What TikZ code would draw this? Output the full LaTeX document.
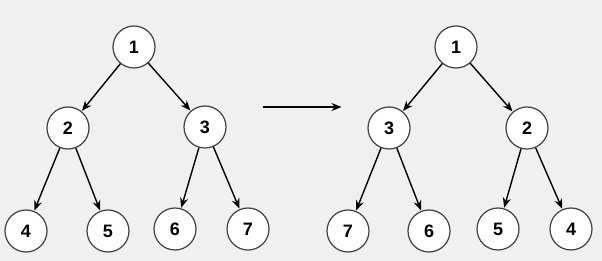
\documentclass[tikz,border=0pt]{standalone}
\usepackage{fontspec}
\setmainfont{Liberation Sans}
\usetikzlibrary{arrows.meta}
\begin{document}
\begin{tikzpicture}[x=1pt,y=-1pt,
  tnode/.style={circle,draw=black!75,line width=1.2pt,fill=white,minimum size=42pt,inner sep=0pt,font=\fontsize{18}{18}\selectfont\bfseries},
  edge/.style={line width=1.4pt,-{Stealth[length=10pt,width=8pt]},shorten <=0pt,shorten >=0.5pt}]
\fill[black!6] (0,0) rectangle (602,261);
\useasboundingbox (0,0) rectangle (602,261);
% left tree
\node[tnode] (a1) at (134,47) {1};
\node[tnode] (a2) at (68,128) {2};
\node[tnode] (a3) at (205,127) {3};
\node[tnode] (a4) at (26,231) {4};
\node[tnode] (a5) at (108,231) {5};
\node[tnode] (a6) at (175,229) {6};
\node[tnode] (a7) at (248,229) {7};
% right tree
\node[tnode] (b1) at (456,47) {1};
\node[tnode] (b3) at (389,128) {3};
\node[tnode] (b2) at (527,128) {2};
\node[tnode] (b7) at (348,231) {7};
\node[tnode] (b6) at (429,231) {6};
\node[tnode] (b5) at (498,229) {5};
\node[tnode] (b4) at (571,229) {4};
\foreach \p/\c in {a1/a2,a1/a3,a2/a4,a2/a5,a3/a6,a3/a7,b1/b3,b1/b2,b3/b7,b3/b6,b2/b5,b2/b4}
  \draw[edge] (\p) -- (\c);
\coordinate (s) at (263,107);
\coordinate (t) at (342,107);
\draw[edge] (s) -- (t);
\end{tikzpicture}
\end{document}
